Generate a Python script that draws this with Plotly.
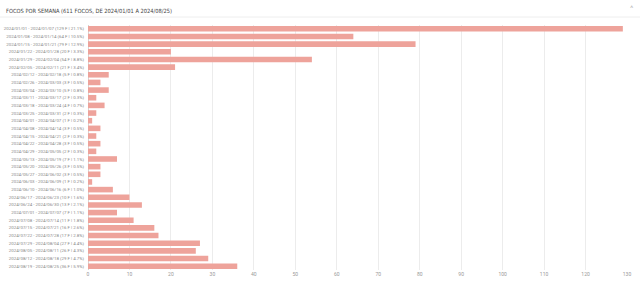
import plotly.graph_objects as go

week_start = ["2024/01/01", "2024/01/08", "2024/01/15", "2024/01/22", "2024/01/29", "2024/02/05",
              "2024/02/12", "2024/02/26", "2024/03/04", "2024/03/11", "2024/03/18", "2024/03/25",
              "2024/04/01", "2024/04/08", "2024/04/15", "2024/04/22", "2024/04/29", "2024/05/13",
              "2024/05/20", "2024/05/27", "2024/06/03", "2024/06/10", "2024/06/17", "2024/06/24",
              "2024/07/01", "2024/07/08", "2024/07/15", "2024/07/22", "2024/07/29", "2024/08/05",
              "2024/08/12", "2024/08/19"]
week_end = ["2024/01/07", "2024/01/14", "2024/01/21", "2024/01/28", "2024/02/04", "2024/02/11",
            "2024/02/18", "2024/03/03", "2024/03/10", "2024/03/17", "2024/03/24", "2024/03/31",
            "2024/04/07", "2024/04/14", "2024/04/21", "2024/04/28", "2024/05/05", "2024/05/19",
            "2024/05/26", "2024/06/02", "2024/06/09", "2024/06/16", "2024/06/23", "2024/06/30",
            "2024/07/07", "2024/07/14", "2024/07/21", "2024/07/28", "2024/08/04", "2024/08/11",
            "2024/08/18", "2024/08/25"]
counts = [129, 64, 79, 20, 54, 21, 5, 3, 5, 2, 4, 2, 1, 3, 2, 3, 2, 7, 3, 3, 1, 6, 10, 13,
          7, 11, 16, 17, 27, 26, 29, 36]
x_ticks = list(range(0, 131, 10))

total = sum(counts)
labels = [f"{s} - {e} ({c} F | {c / total * 100:.1f}%)" for s, e, c in zip(week_start, week_end, counts)]

L, R, T, B = 88, 13, 25, 14
PW, PH = 640 - L - R, 284 - T - B

fig = go.Figure(go.Bar(
    x=counts, y=labels, orientation="h",
    marker=dict(color="#eea39b", line=dict(width=0)),
    hoverinfo="x+y",
))

fig.update_layout(
    width=640, height=284,
    margin=dict(l=L, r=R, t=T, b=B),
    paper_bgcolor="white", plot_bgcolor="white",
    bargap=0.27,
    showlegend=False,
    font=dict(family="Roboto, sans-serif", color="#888"),
    xaxis=dict(range=[0, 130], tickvals=x_ticks, showgrid=True, gridcolor="#ececec",
               gridwidth=1, zeroline=True, zerolinecolor="#d6d6d6", zerolinewidth=1,
               tickfont=dict(size=5, color="#999"), ticks="", fixedrange=True,
               automargin=False),
    yaxis=dict(autorange="reversed", tickfont=dict(size=4.4, color="#888"), ticks="",
               showgrid=False, fixedrange=True, ticklabelstandoff=3, automargin=False),
    annotations=[
        dict(text="FOCOS POR SEMANA (611 FOCOS, DE 2024/01/01 A 2024/08/25)",
             x=(4 - L) / PW, y=(284 - B - 11) / PH,
             xref="paper", yref="paper", showarrow=False, xanchor="left", yanchor="middle",
             font=dict(family="DejaVu Sans Condensed, Liberation Sans Narrow, sans-serif",
                       size=5.7, color="#444")),
        dict(text="^", x=(632 - L) / PW, y=(284 - B - 8) / PH, xref="paper", yref="paper",
             showarrow=False, xanchor="center", yanchor="middle",
             font=dict(size=8, color="#bbb")),
    ],
    shapes=[
        dict(type="line", xref="paper", yref="paper", x0=-L / PW, x1=1 + R / PW,
             y0=1 + 8 / PH, y1=1 + 8 / PH, line=dict(color="#eeeeee", width=1)),
    ],
)

fig.write_html("out.html")
